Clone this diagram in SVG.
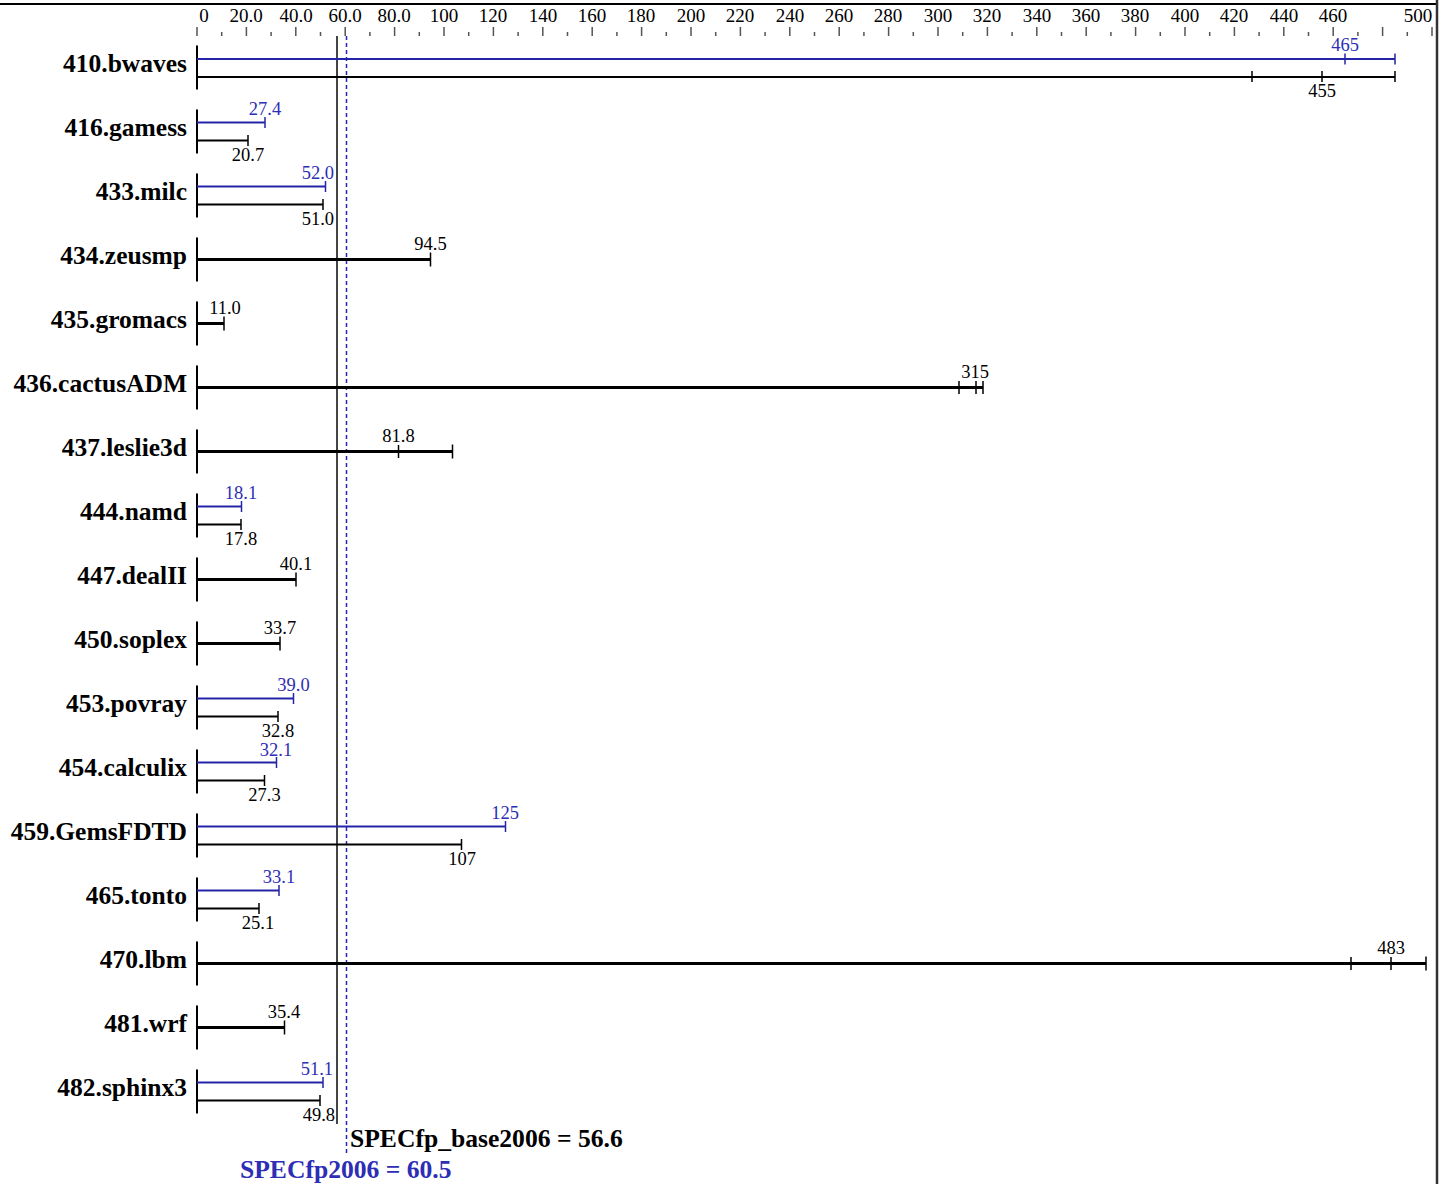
<svg xmlns="http://www.w3.org/2000/svg" width="1447" height="1184" viewBox="0 0 1447 1184">
<style>
text{font-family:"Liberation Serif","Times New Roman",serif}
.name{font-size:25.5px;font-weight:bold;fill:#000;text-anchor:end}
.tl{font-size:19px;fill:#000;text-anchor:middle}
.vb{font-size:18.5px;fill:#2d2db5;text-anchor:middle}
.vk{font-size:18.5px;fill:#000;text-anchor:middle}
.ax{stroke:#000;stroke-width:2}
.bb{stroke:#2424a8;stroke-width:2;fill:none}
.bk{stroke:#000;stroke-width:2;fill:none}
.bs{stroke:#000;stroke-width:3;fill:none}
.tb{stroke:#2424a8;stroke-width:1.5}
.tk{stroke:#000;stroke-width:1.5}
.maj{stroke:#555;stroke-width:1.5}
.min{stroke:#555;stroke-width:1.5}
</style>
<rect width="1447" height="1184" fill="#fff"/>
<line x1="0" y1="4" x2="1438" y2="4" stroke="#000" stroke-width="2"/>
<line x1="1437" y1="0" x2="1437" y2="1184" stroke="#333" stroke-width="2.5"/>
<g id="axis">
<text class="tl" x="204" y="22">0</text>
<text class="tl" x="246" y="22">20.0</text>
<text class="tl" x="296" y="22">40.0</text>
<text class="tl" x="345" y="22">60.0</text>
<text class="tl" x="394" y="22">80.0</text>
<text class="tl" x="444" y="22">100</text>
<text class="tl" x="493" y="22">120</text>
<text class="tl" x="543" y="22">140</text>
<text class="tl" x="592" y="22">160</text>
<text class="tl" x="641" y="22">180</text>
<text class="tl" x="691" y="22">200</text>
<text class="tl" x="740" y="22">220</text>
<text class="tl" x="790" y="22">240</text>
<text class="tl" x="839" y="22">260</text>
<text class="tl" x="888" y="22">280</text>
<text class="tl" x="938" y="22">300</text>
<text class="tl" x="987" y="22">320</text>
<text class="tl" x="1037" y="22">340</text>
<text class="tl" x="1086" y="22">360</text>
<text class="tl" x="1135" y="22">380</text>
<text class="tl" x="1185" y="22">400</text>
<text class="tl" x="1234" y="22">420</text>
<text class="tl" x="1284" y="22">440</text>
<text class="tl" x="1333" y="22">460</text>
<text class="tl" x="1418" y="22">500</text>
<path class="maj" d="M197 27V36M246.4 27V36M295.8 27V36M345.2 27V36M394.6 27V36M444 27V36M493.4 27V36M542.8 27V36M592.2 27V36M641.6 27V36M691 27V36M740.4 27V36M789.8 27V36M839.2 27V36M888.6 27V36M938 27V36M987.4 27V36M1036.8 27V36M1086.2 27V36M1135.6 27V36M1185 27V36M1234.4 27V36M1283.8 27V36M1333.2 27V36M1382.6 27V36M1432 27V36"/>
<path class="min" d="M221.7 32V36M271.1 32V36M320.5 32V36M369.9 32V36M419.3 32V36M468.7 32V36M518.1 32V36M567.5 32V36M616.9 32V36M666.3 32V36M715.7 32V36M765.1 32V36M814.5 32V36M863.9 32V36M913.3 32V36M962.7 32V36M1012.1 32V36M1061.5 32V36M1110.9 32V36M1160.3 32V36M1209.7 32V36M1259.1 32V36M1308.5 32V36M1357.9 32V36M1407.3 32V36"/>
</g>
<g id="reference-lines">
<line x1="337" y1="36" x2="337" y2="1124" stroke="#444" stroke-width="2"/>
<line x1="346.5" y1="36" x2="346.5" y2="1153" stroke="#2424c0" stroke-width="1.5" stroke-dasharray="4,3"/>
</g>
<g id="b410">
<text class="name" x="187" y="72">410.bwaves</text>
<line class="ax" x1="197" y1="45.5" x2="197" y2="89.5"/>
<line class="bb" x1="197" y1="59" x2="1395" y2="59"/>
<path class="tb" d="M1345 53.5V64.5M1395 53.5V64.5"/>
<line class="bk" x1="197" y1="77" x2="1395" y2="77"/>
<path class="tk" d="M1252 71V82M1322 71V82M1395 71V82"/>
<text class="vb" x="1345" y="51">465</text>
<text class="vk" x="1322" y="97">455</text>
</g>
<g id="b416">
<text class="name" x="187" y="136">416.gamess</text>
<line class="ax" x1="197" y1="109.5" x2="197" y2="153.5"/>
<line class="bb" x1="197" y1="122.5" x2="265" y2="122.5"/>
<path class="tb" d="M265 117V128"/>
<line class="bk" x1="197" y1="140.5" x2="248" y2="140.5"/>
<path class="tk" d="M248 135V146"/>
<text class="vb" x="265" y="115">27.4</text>
<text class="vk" x="248" y="161">20.7</text>
</g>
<g id="b433">
<text class="name" x="187" y="200">433.milc</text>
<line class="ax" x1="197" y1="173.5" x2="197" y2="217.5"/>
<line class="bb" x1="197" y1="186.5" x2="325.5" y2="186.5"/>
<path class="tb" d="M325.5 181V192"/>
<line class="bk" x1="197" y1="204.5" x2="323" y2="204.5"/>
<path class="tk" d="M323 199V210"/>
<text class="vb" x="334" y="179" style="text-anchor:end">52.0</text>
<text class="vk" x="334" y="225" style="text-anchor:end">51.0</text>
</g>
<g id="b434">
<text class="name" x="187" y="264">434.zeusmp</text>
<line class="ax" x1="197" y1="237.5" x2="197" y2="281.5"/>
<line class="bs" x1="197" y1="259.5" x2="430.5" y2="259.5"/>
<path class="tk" d="M430.5 252.5V266.5"/>
<text class="vk" x="430.5" y="250">94.5</text>
</g>
<g id="b435">
<text class="name" x="187" y="328">435.gromacs</text>
<line class="ax" x1="197" y1="301.5" x2="197" y2="345.5"/>
<line class="bs" x1="197" y1="323.5" x2="224" y2="323.5"/>
<path class="tk" d="M224 316.5V330.5"/>
<text class="vk" x="225" y="314">11.0</text>
</g>
<g id="b436">
<text class="name" x="187" y="392">436.cactusADM</text>
<line class="ax" x1="197" y1="365.5" x2="197" y2="409.5"/>
<line class="bs" x1="197" y1="387.5" x2="983" y2="387.5"/>
<path class="tk" d="M959 381V394M976 381V394M983 381V394"/>
<text class="vk" x="975" y="378">315</text>
</g>
<g id="b437">
<text class="name" x="187" y="456">437.leslie3d</text>
<line class="ax" x1="197" y1="429.5" x2="197" y2="473.5"/>
<line class="bs" x1="197" y1="451.5" x2="452.5" y2="451.5"/>
<path class="tk" d="M398.5 445V458M452.5 444.5V458.5"/>
<text class="vk" x="398.5" y="442">81.8</text>
</g>
<g id="b444">
<text class="name" x="187" y="520">444.namd</text>
<line class="ax" x1="197" y1="493.5" x2="197" y2="537.5"/>
<line class="bb" x1="197" y1="506.5" x2="241.5" y2="506.5"/>
<path class="tb" d="M241.5 501V512"/>
<line class="bk" x1="197" y1="524.5" x2="241" y2="524.5"/>
<path class="tk" d="M241 519V530"/>
<text class="vb" x="241" y="499">18.1</text>
<text class="vk" x="241" y="545">17.8</text>
</g>
<g id="b447">
<text class="name" x="187" y="584">447.dealII</text>
<line class="ax" x1="197" y1="557.5" x2="197" y2="601.5"/>
<line class="bs" x1="197" y1="579.5" x2="296" y2="579.5"/>
<path class="tk" d="M296 572.5V586.5"/>
<text class="vk" x="296" y="570">40.1</text>
</g>
<g id="b450">
<text class="name" x="187" y="648">450.soplex</text>
<line class="ax" x1="197" y1="621.5" x2="197" y2="665.5"/>
<line class="bs" x1="197" y1="643.5" x2="280" y2="643.5"/>
<path class="tk" d="M280 636.5V650.5"/>
<text class="vk" x="280" y="634">33.7</text>
</g>
<g id="b453">
<text class="name" x="187" y="712">453.povray</text>
<line class="ax" x1="197" y1="685.5" x2="197" y2="729.5"/>
<line class="bb" x1="197" y1="698.5" x2="293.5" y2="698.5"/>
<path class="tb" d="M293.5 693V704"/>
<line class="bk" x1="197" y1="716.5" x2="278" y2="716.5"/>
<path class="tk" d="M278 711V722"/>
<text class="vb" x="293.5" y="691">39.0</text>
<text class="vk" x="278" y="736.5">32.8</text>
</g>
<g id="b454">
<text class="name" x="187" y="776">454.calculix</text>
<line class="ax" x1="197" y1="749.5" x2="197" y2="793.5"/>
<line class="bb" x1="197" y1="762.5" x2="276.5" y2="762.5"/>
<path class="tb" d="M276.5 757V768"/>
<line class="bk" x1="197" y1="780.5" x2="264.5" y2="780.5"/>
<path class="tk" d="M264.5 775V786"/>
<text class="vb" x="276" y="755.5">32.1</text>
<text class="vk" x="264.5" y="801">27.3</text>
</g>
<g id="b459">
<text class="name" x="187" y="840">459.GemsFDTD</text>
<line class="ax" x1="197" y1="813.5" x2="197" y2="857.5"/>
<line class="bb" x1="197" y1="826.5" x2="505.5" y2="826.5"/>
<path class="tb" d="M505.5 821V832"/>
<line class="bk" x1="197" y1="844.5" x2="461.5" y2="844.5"/>
<path class="tk" d="M461.5 839V850"/>
<text class="vb" x="505" y="819">125</text>
<text class="vk" x="462" y="865">107</text>
</g>
<g id="b465">
<text class="name" x="187" y="904">465.tonto</text>
<line class="ax" x1="197" y1="877.5" x2="197" y2="921.5"/>
<line class="bb" x1="197" y1="890.5" x2="279" y2="890.5"/>
<path class="tb" d="M279 885V896"/>
<line class="bk" x1="197" y1="908.5" x2="259" y2="908.5"/>
<path class="tk" d="M259 903V914"/>
<text class="vb" x="279" y="883">33.1</text>
<text class="vk" x="258" y="929">25.1</text>
</g>
<g id="b470">
<text class="name" x="187" y="968">470.lbm</text>
<line class="ax" x1="197" y1="941.5" x2="197" y2="985.5"/>
<line class="bs" x1="197" y1="963.5" x2="1426" y2="963.5"/>
<path class="tk" d="M1351 957V970M1391 957V970M1426 956.5V970.5"/>
<text class="vk" x="1391" y="954">483</text>
</g>
<g id="b481">
<text class="name" x="187" y="1032">481.wrf</text>
<line class="ax" x1="197" y1="1005.5" x2="197" y2="1049.5"/>
<line class="bs" x1="197" y1="1027.5" x2="284.5" y2="1027.5"/>
<path class="tk" d="M284.5 1020.5V1034.5"/>
<text class="vk" x="284" y="1018">35.4</text>
</g>
<g id="b482">
<text class="name" x="187" y="1096">482.sphinx3</text>
<line class="ax" x1="197" y1="1069.5" x2="197" y2="1113.5"/>
<line class="bb" x1="197" y1="1082.5" x2="323" y2="1082.5"/>
<path class="tb" d="M323 1077V1088"/>
<line class="bk" x1="197" y1="1100.5" x2="320" y2="1100.5"/>
<path class="tk" d="M320 1095V1106"/>
<text class="vb" x="333" y="1075" style="text-anchor:end">51.1</text>
<text class="vk" x="335" y="1121" style="text-anchor:end">49.8</text>
</g>
<g id="summary">
<text x="350" y="1147" style="font-size:25.6px;font-weight:bold;fill:#000">SPECfp_base2006 = 56.6</text>
<text x="240" y="1178" style="font-size:25.6px;font-weight:bold;fill:#2d2db5">SPECfp2006 = 60.5</text>
</g>
</svg>
